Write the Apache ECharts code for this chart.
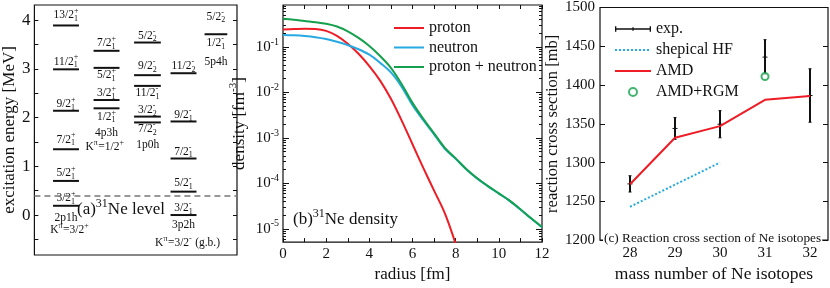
<!DOCTYPE html>
<html><head><meta charset="utf-8">
<script src="https://cdn.jsdelivr.net/npm/echarts@6/dist/echarts.min.js"></script>
<style>html,body{margin:0;padding:0;background:#fff}#c{width:830px;height:288px}</style>
</head><body><div id="c"></div>
<script>
// ================= DATA =================
// ---- Panel (a): 31Ne levels ----
const levelCol = [0,0,0,0,0,0, 1,1,1,1, 2,2,2,2,2, 3,3,3,3,3, 4];
const levelE   = [3.89,2.99,2.14,1.35,0.70,0.19, 3.37,3.02,2.36,2.19, 3.54,2.87,2.65,2.02,1.90, 2.91,1.92,1.16,0.48,0.00, 3.71];
const labelText = ['13/2_1^+','11/2_1^+','9/2_1^+','7/2_1^+','5/2_1^+','3/2_1^+','2p1h','K^π=3/2^+',
  '7/2_1^+','5/2_1^+','3/2_1^+','1/2_1^+','4p3h','K^π=1/2^+',
  '5/2_2^-','9/2_2^-','11/2_1^-','3/2_2^-','7/2_2^-','1p0h',
  '11/2_2^-','9/2_1^-','7/2_1^-','5/2_1^-','3/2_1^-','3p2h','K^π=3/2^- (g.b.)',
  '5/2_2^-','1/2_1^-','5p4h'];
const labelX = [0.78,0.78,0.78,0.78,0.78,0.78,0.78,0.87,
  1.78,1.78,1.78,1.78,1.78,1.74,
  2.79,2.79,2.79,2.79,2.79,2.80,
  3.68,3.68,3.68,3.68,3.68,3.68,3.78,
  4.48,4.48,4.48];
const labelE = [4.11,3.15,2.28,1.55,0.86,0.34,-0.07,-0.31,
  3.53,2.87,2.50,2.02,1.68,1.40,
  3.68,3.05,2.50,2.16,1.76,1.44,
  3.06,2.05,1.30,0.65,0.14,-0.21,-0.58,
  4.07,3.53,3.15];
const thresholdE = 0.40;
const energyTicks = [0,1,2,3,4];

// ---- Panel (b): density [fm^-3] vs radius [fm] ----
const radius = [0,0.5,1,1.5,2,2.5,3,3.5,4,4.5,5,5.5,6,6.5,7,7.5,8,8.5,9,9.5,10,10.5,11,11.5,12];
const protonDensity = [0.243,0.247,0.251,0.248,0.226,0.175,0.1175,0.0708,0.0380,0.0182,0.00724,0.0024,7.24e-4,2.19e-4,6.92e-5,2.19e-5,4.68e-6];
const neutronDensity = [0.1837,0.1799,0.1738,0.1641,0.1496,0.1303,0.1096,0.0891,0.0676,0.0447,0.0275,0.0132,0.00525,0.00245,0.0012,5.75e-4,3.47e-4,2.02e-4,1.27e-4,8.61e-5,5.96e-5,4.12e-5,2.66e-5,1.68e-5,1.08e-5];
const totalDensity = [0.419,0.398,0.373,0.351,0.324,0.282,0.221,0.158,0.105,0.0631,0.0347,0.0151,0.00589,0.00263,0.00126,6.03e-4,3.55e-4,2.04e-4,1.29e-4,8.71e-5,6.03e-5,4.17e-5,2.69e-5,1.70e-5,1.10e-5];
const radiusTickLabels = [0,2,4,6,8,10,12];
const decadeTicks = [-5,-4,-3,-2,-1];

// ---- Panel (c): reaction cross sections [mb] ----
const massNumbers = [28,29,30,31,32];
const expSigma = [1272.5,1344,1349.5,1436,1386.5];
const expError = [10.5,14,17.5,22.5,34.5];
const hfMass = [28,29,30];
const hfSigma = [1243,1271.5,1300];
const amdSigma = [1272,1332,1347,1381,1386];
const rgmMass = [31];
const rgmSigma = [1411];
const sigmaTicks = [1200,1250,1300,1350,1400,1450,1500];

// ================= LAYOUT / STYLE =================
const FONT = 'Liberation Serif';
const INK = '#111';
const RED = '#ee1c25', BLUE = '#27aae1', GREEN = '#14a04c';
const colCentre = [0.78,1.78,2.79,3.68,4.48];
const colHalf = [0.32,0.32,0.33,0.32,0.28];

const mctx = document.createElement('canvas').getContext('2d');
function tw(t, s){ mctx.font = s + 'px "' + FONT + '"'; return mctx.measureText(t).width; }
function parseMarkup(s){
  const out=[]; let i=0, buf='';
  while(i<s.length){
    const c=s[i];
    if(c==='^'||c==='_'){
      if(buf){out.push({t:buf,k:'n'});buf='';}
      let t;
      if(s[i+1]==='{'){const j=s.indexOf('}',i); t=s.slice(i+2,j); i=j+1;}
      else {t=s[i+1]; i+=2;}
      out.push({t:t,k:c==='^'?'sup':'sub'});
    } else {buf+=c;i++;}
  }
  if(buf) out.push({t:buf,k:'n'});
  return out;
}
function markup(str, cx, cy, size){
  const toks=parseMarkup(str), small=Math.round(size*0.72);
  const items=[]; let cur=0;
  const dyOf = k => k==='sup' ? -0.36*size : 0.32*size;
  for(let i=0;i<toks.length;i++){
    const tk=toks[i];
    if(tk.k==='n'){ items.push({t:tk.t,x:cur,dy:0,s:size}); cur+=tw(tk.t,size); }
    else{
      const w=tw(tk.t,small);
      items.push({t:tk.t,x:cur,dy:dyOf(tk.k),s:small});
      const nx=toks[i+1];
      if(nx && nx.k!=='n' && nx.k!==tk.k){
        items.push({t:nx.t,x:cur,dy:dyOf(nx.k),s:small});
        cur+=Math.max(w,tw(nx.t,small)); i++;
      } else cur+=w+0.5;
    }
  }
  const x0=cx-cur/2;
  return items.map(it=>({type:'text',x:x0+it.x,y:cy+it.dy,silent:true,
    style:{text:it.t,font:it.s+'px "'+FONT+'"',fill:INK,textAlign:'left',textVerticalAlign:'middle'}}));
}

const tickOnly = (grid, pos, min, max, vals, len, extra) => Object.assign({
  gridIndex:grid, type:'value', position:pos, min:min, max:max,
  axisLine:{show:false}, splitLine:{show:false},
  axisTick:{show:true, inside:true, length:len, customValues:vals, lineStyle:{color:INK,width:1}},
  axisLabel:{show:false}
}, extra||{});

const logMin=-5.292, logMax=-0.077;
const minorLog=[];
for(let n=-6;n<=0;n++) for(let k=2;k<=9;k++){const v=n+Math.log10(k); if(v>logMin&&v<logMax) minorLog.push(v);}
const halfSteps=[]; for(let v=-0.5;v<=4.01;v+=0.5) halfSteps.push(+v.toFixed(1));
const radiusTicks=[]; for(let v=0;v<=12;v++) radiusTicks.push(v);

const txt = (size, extra) => Object.assign({fontFamily:FONT, fontSize:size, color:INK, fontWeight:'normal'}, extra||{});
const rich = sup => ({s:{fontFamily:FONT,color:INK,fontSize:sup,verticalAlign:'top'}});
const lineIcon = (color, type) => ({icon:'line', itemStyle:{color:color, borderColor:color, borderWidth:2, borderType:type||'solid'}});

const option = {
  animation:false,
  backgroundColor:'#fff',
  textStyle:{fontFamily:FONT},
  title:[
    {text:'(a){s|31}Ne level', left:77, top:198, padding:0, textStyle:txt(17,{lineHeight:24,rich:rich(12)})},
    {text:'(b){s|31}Ne density', left:293, top:208, padding:0, textStyle:txt(17,{lineHeight:24,rich:rich(12)})},
    {text:'(c) Reaction cross section of Ne isotopes', left:603, top:232, padding:[0,1,0,1], backgroundColor:'#fff',
     textStyle:txt(13.3)}
  ],
  legend:[
    {orient:'vertical', left:393, top:20, padding:0, itemWidth:30, itemHeight:10, itemGap:3.5, selectedMode:false,
     textStyle:txt(16),
     data:[Object.assign({name:'proton'},lineIcon(RED)), Object.assign({name:'neutron'},lineIcon(BLUE)),
           Object.assign({name:'proton + neutron'},lineIcon(GREEN))]},
    {orient:'vertical', left:614, top:21, padding:0, itemWidth:36, itemHeight:8, itemGap:5, selectedMode:false,
     textStyle:txt(16),
     data:[{name:'exp.', icon:'path://M0,4.3H40V5.7H0Z M0,2H1.5V8H0Z M19.3,3H20.7V7H19.3Z M38.5,2H40V8H38.5Z', itemStyle:{color:INK}},
           Object.assign({name:'shepical HF'},lineIcon(BLUE,'dotted')), Object.assign({name:'AMD'},lineIcon(RED)), 'AMD+RGM']}
  ],
  grid:[
    {left:32, top:5, width:205, height:250, show:true, borderColor:INK, borderWidth:1.2},
    {left:283, top:5, width:259, height:243, show:true, borderColor:INK, borderWidth:1.2},
    {left:600, top:6, width:228, height:243, show:true, borderColor:INK, borderWidth:1.2}
  ],
  xAxis:[
    {gridIndex:0, type:'value', min:0, max:5, show:false},
    tickOnly(1,'bottom',0,12,radiusTicks,4,{
      axisLabel:Object.assign({show:true, customValues:radiusTickLabels, margin:4, formatter:v=>String(v)}, txt(15)),
      name:'radius [fm]', nameLocation:'middle', nameGap:20, nameTextStyle:txt(17)}),
    tickOnly(1,'top',0,12,radiusTicks,4),
    tickOnly(2,'bottom',27.333,32.4,massNumbers,4,{
      axisLabel:Object.assign({show:true, customValues:massNumbers, margin:5, formatter:v=>String(v)}, txt(15)),
      name:'mass number of Ne isotopes', nameLocation:'middle', nameGap:20, nameTextStyle:txt(17.5)})
  ],
  yAxis:[
    tickOnly(0,'left',-0.82,4.31,halfSteps,4,{
      axisLabel:Object.assign({show:true, customValues:energyTicks, margin:4, formatter:v=>String(v)}, txt(17)),
      name:'excitation energy [MeV]', nameLocation:'middle', nameGap:13, nameTextStyle:txt(17)}),
    tickOnly(0,'right',-0.82,4.31,halfSteps,4),
    tickOnly(1,'left',logMin,logMax,decadeTicks,6,{
      axisLabel:Object.assign({show:true, customValues:decadeTicks, margin:4, lineHeight:20,
        formatter:v=>'10{s|'+v+'}', rich:rich(10)}, txt(15)),
      name:'density [fm{s|-3}]', nameLocation:'middle', nameGap:17,
      nameTextStyle:txt(17,{lineHeight:24,rich:rich(11)})}),
    tickOnly(1,'left',logMin,logMax,minorLog,3),
    tickOnly(1,'right',logMin,logMax,decadeTicks,6),
    tickOnly(1,'right',logMin,logMax,minorLog,3),
    tickOnly(2,'left',1200,1500,sigmaTicks,5,{
      axisLabel:Object.assign({show:true, customValues:sigmaTicks, margin:5, formatter:v=>String(v)}, txt(15)),
      name:'reaction cross section [mb]', nameLocation:'middle', nameGap:36, nameTextStyle:txt(16.5)}),
    tickOnly(2,'right',1200,1500,sigmaTicks,5)
  ],
  series:[
    {type:'custom', name:'levels', xAxisIndex:0, yAxisIndex:0, silent:true,
     data: levelCol.map((c,i)=>[c, levelE[i]]),
     renderItem:(p,api)=>{
       const c=api.value(0), e=api.value(1);
       const a=api.coord([colCentre[c]-colHalf[c], e]), b=api.coord([colCentre[c]+colHalf[c], e]);
       return {type:'line', shape:{x1:a[0],y1:a[1],x2:b[0],y2:b[1]}, style:{stroke:INK,lineWidth:2}};
     },
     markLine:{silent:true, symbol:'none', label:{show:false},
       lineStyle:{type:[6,4], color:'#777', width:1.5}, data:[{yAxis:thresholdE}]}},
    {type:'custom', name:'levelLabels', xAxisIndex:0, yAxisIndex:0, silent:true,
     data: labelText.map((t,i)=>[labelX[i], labelE[i], i]),
     renderItem:(p,api)=>{
       const i=api.value(2), pt=api.coord([api.value(0), api.value(1)]);
       return {type:'group', children: markup(labelText[i], pt[0], pt[1], 11.5)};
     }},
    {type:'line', name:'proton', xAxisIndex:1, yAxisIndex:2, smooth:0.35, symbol:'none', clip:true,
     lineStyle:{color:RED,width:2}, itemStyle:{color:RED},
     data: protonDensity.map((d,i)=>[radius[i], Math.log10(d)])},
    {type:'line', name:'neutron', xAxisIndex:1, yAxisIndex:2, smooth:0.35, symbol:'none', clip:true,
     lineStyle:{color:BLUE,width:2}, itemStyle:{color:BLUE},
     data: neutronDensity.map((d,i)=>[radius[i], Math.log10(d)])},
    {type:'line', name:'proton + neutron', xAxisIndex:1, yAxisIndex:2, smooth:0.35, symbol:'none', clip:true,
     lineStyle:{color:GREEN,width:2}, itemStyle:{color:GREEN},
     data: totalDensity.map((d,i)=>[radius[i], Math.log10(d)])},
    {type:'custom', name:'exp.', xAxisIndex:3, yAxisIndex:6, itemStyle:{color:INK},
     data: massNumbers.map((m,i)=>[m, expSigma[i], expError[i]]),
     renderItem:(p,api)=>{
       const x=api.value(0), v=api.value(1), e=api.value(2);
       const t=api.coord([x,v+e]), b=api.coord([x,v-e]), m=api.coord([x,v]);
       return {type:'group', children:[
         {type:'line', shape:{x1:t[0],y1:t[1],x2:b[0],y2:b[1]}, style:{stroke:INK,lineWidth:2}},
         {type:'line', shape:{x1:m[0]-2.5,y1:m[1],x2:m[0]+2.5,y2:m[1]}, style:{stroke:INK,lineWidth:1}},
         {type:'line', shape:{x1:t[0]-1.5,y1:t[1],x2:t[0]+1.5,y2:t[1]}, style:{stroke:INK,lineWidth:1}},
         {type:'line', shape:{x1:b[0]-1.5,y1:b[1],x2:b[0]+1.5,y2:b[1]}, style:{stroke:INK,lineWidth:1}}
       ]};
     }},
    {type:'line', name:'shepical HF', xAxisIndex:3, yAxisIndex:6, symbol:'none',
     lineStyle:{color:BLUE,width:2,type:'dotted'}, itemStyle:{color:BLUE},
     data: hfMass.map((m,i)=>[m, hfSigma[i]])},
    {type:'line', name:'AMD', xAxisIndex:3, yAxisIndex:6, symbol:'none',
     lineStyle:{color:RED,width:2}, itemStyle:{color:RED},
     data: massNumbers.map((m,i)=>[m, amdSigma[i]])},
    {type:'scatter', name:'AMD+RGM', xAxisIndex:3, yAxisIndex:6, symbol:'emptyCircle', symbolSize:7,
     itemStyle:{color:GREEN, borderColor:GREEN, borderWidth:2},
     data: rgmMass.map((m,i)=>[m, rgmSigma[i]])}
  ]
};
const chart = echarts.init(document.getElementById('c'));
chart.setOption(option);
</script>
</body></html>
